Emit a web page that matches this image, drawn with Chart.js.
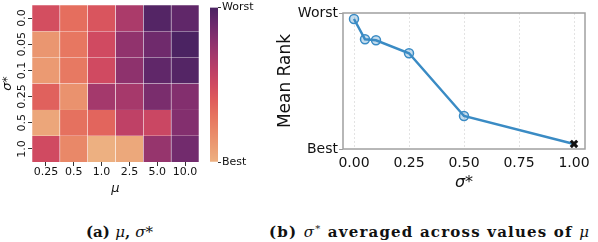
<!DOCTYPE html>
<html>
<head>
<meta charset="utf-8">
<script src="https://cdn.jsdelivr.net/npm/chart.js@4.4.1/dist/chart.umd.min.js"></script>
<style>
  html, body { margin: 0; padding: 0; background: #fff; }
  body { width: 598px; height: 242px; position: relative; overflow: hidden; }
  canvas { position: absolute; top: 0; }
  .cap { position: absolute; top: 222px; height: 20px; line-height: 20px; font-family: "DejaVu Serif", serif;
         font-weight: bold; font-size: 15px; color: #111; white-space: nowrap; }
  .cap i { font-weight: normal; }
  .cap sup { font-size: 10px; line-height: 0; vertical-align: 5px; }
</style>
</head>
<body>
<canvas id="heat" width="205" height="200" style="left:0"></canvas>
<canvas id="cbar" width="60" height="200" style="left:205px"></canvas>
<canvas id="rank" width="328" height="200" style="left:270px"></canvas>
<div class="cap" style="left:86px">(a) <i>μ</i>, <i>σ*</i></div>
<div class="cap" style="left:269px; letter-spacing:1.2px">(b) <i>σ<sup>*</sup></i> averaged across values of <i>μ</i></div>
<script>
// heatmap (a): rank, 0 = best .. 1 = worst, rows top to bottom
const muLabels = ["0.25", "0.5", "1.0", "2.5", "5.0", "10.0"];
const sigmaLabels = ["0.0", "0.05", "0.1", "0.25", "0.5", "1.0"];
const rankGrid = [
    [0.48, 0.32, 0.44, 0.66, 0.97, 0.93],
    [0.13, 0.28, 0.50, 0.76, 0.88, 1.00],
    [0.11, 0.27, 0.50, 0.77, 0.93, 0.97],
    [0.38, 0.15, 0.69, 0.68, 0.84, 0.81],
    [0.05, 0.31, 0.36, 0.58, 0.53, 0.81],
    [0.50, 0.20, 0.00, 0.04, 0.74, 0.87]
];

// line chart (b)
const sigmaValues = [0, 0.05, 0.1, 0.25, 0.5, 1.0];
const meanRank = [0.956, 0.807, 0.799, 0.704, 0.243, 0.037];
const xTicks = [0, 0.25, 0.5, 0.75, 1.0];

Chart.defaults.font.family = "DejaVu Sans";
Chart.defaults.color = "#111";

// flare-like colormap
const flareStops = ["#edb081", "#eb9c73", "#e98868", "#e6735f", "#df5c5c", "#d04a61",
                    "#bb3f67", "#a1386c", "#86306e", "#69296c", "#4b2362"];
function hexToRgb(h) {
    return [parseInt(h.slice(1, 3), 16), parseInt(h.slice(3, 5), 16), parseInt(h.slice(5, 7), 16)];
}
function flare(v) {
    const t = Math.max(0, Math.min(1, v)) * (flareStops.length - 1);
    const i = Math.min(Math.floor(t), flareStops.length - 2);
    const f = t - i;
    const a = hexToRgb(flareStops[i]), b = hexToRgb(flareStops[i + 1]);
    const c = a.map((x, k) => Math.round(x + (b[k] - x) * f));
    return "rgb(" + c.join(",") + ")";
}

// heatmap as stacked bars, bottom row first
const heatSets = [];
for (let r = rankGrid.length - 1; r >= 0; r--) {
    heatSets.push({
        data: muLabels.map(() => 1),
        backgroundColor: rankGrid[r].map(flare),
        borderColor: "rgba(255,255,255,0.12)",
        borderWidth: 0.6,
        barPercentage: 1,
        categoryPercentage: 1
    });
}

new Chart(document.getElementById("heat"), {
    type: "bar",
    data: { labels: muLabels, datasets: heatSets },
    options: {
        responsive: false,
        animation: false,
        layout: { padding: { left: 0, right: 6, top: 5, bottom: 0 } },
        plugins: { legend: { display: false }, tooltip: { enabled: false } },
        scales: {
            x: {
                stacked: true,
                border: { display: false },
                grid: { offset: false, drawOnChartArea: false, tickLength: 4, color: "#333" },
                ticks: { font: { size: 11 }, padding: 0, maxRotation: 0, autoSkip: false },
                title: { display: true, text: "μ", font: { size: 13, style: "italic" }, padding: { top: 0, bottom: 4 } },
                afterFit: (s) => { s.height = 38; }
            },
            y: {
                stacked: true,
                min: 0,
                max: sigmaLabels.length,
                border: { display: false },
                grid: { drawOnChartArea: false, tickLength: 4, color: "#333" },
                afterBuildTicks: (s) => { s.ticks = sigmaLabels.map((_, i) => ({ value: i + 0.5 })); },
                ticks: {
                    font: { size: 11 },
                    minRotation: 90,
                    maxRotation: 90,
                    crossAlign: "center",
                    padding: -6,
                    autoSkip: false,
                    callback: (v) => sigmaLabels[sigmaLabels.length - 1 - Math.floor(v)]
                },
                title: { display: true, text: "σ*", font: { size: 13, style: "italic" }, padding: { top: 0, bottom: 0 } },
                afterFit: (s) => { s.width = 32; }
            }
        }
    }
});

// colorbar
new Chart(document.getElementById("cbar"), {
    type: "bar",
    data: {
        labels: [""],
        datasets: [{
            data: [[0, 1]],
            barPercentage: 1,
            categoryPercentage: 1,
            backgroundColor: (ctx) => {
                const area = ctx.chart.chartArea;
                if (!area) return "#c83e66";
                const g = ctx.chart.ctx.createLinearGradient(0, area.bottom, 0, area.top);
                flareStops.forEach((c, i) => g.addColorStop(i / (flareStops.length - 1), c));
                return g;
            }
        }]
    },
    options: {
        responsive: false,
        animation: false,
        layout: { padding: { left: 5, right: 0, top: 5, bottom: 38 } },
        plugins: { legend: { display: false }, tooltip: { enabled: false } },
        scales: {
            x: { display: false },
            y: {
                position: "right",
                min: 0,
                max: 1,
                border: { display: false },
                grid: { drawOnChartArea: false, tickLength: 3, color: "#333" },
                afterBuildTicks: (s) => { s.ticks = [{ value: 0 }, { value: 1 }]; },
                ticks: { font: { size: 11 }, padding: 1, callback: (v) => (v === 1 ? "Worst" : "Best") },
                afterFit: (s) => { s.width = 47; }
            }
        }
    }
});

// frame round the plot area of (b)
const framePlugin = {
    id: "frame",
    afterDraw(chart) {
        const a = chart.chartArea, c = chart.ctx;
        c.save();
        c.strokeStyle = "#a0a0a0";
        c.lineWidth = 1.5;
        c.strokeRect(a.left, a.top, a.right - a.left, a.bottom - a.top);
        c.restore();
    }
};

const lineColor = "#3a8bc4";
const last = sigmaValues.length - 1;

new Chart(document.getElementById("rank"), {
    type: "line",
    data: {
        datasets: [{
            data: sigmaValues.map((s, i) => ({ x: s, y: meanRank[i] })),
            borderColor: lineColor,
            borderWidth: 2.5,
            pointStyle: sigmaValues.map((_, i) => (i === last ? "crossRot" : "circle")),
            pointRadius: 4.5,
            pointBorderWidth: sigmaValues.map((_, i) => (i === last ? 3 : 1.5)),
            pointBorderColor: sigmaValues.map((_, i) => (i === last ? "#111" : lineColor)),
            pointBackgroundColor: "rgba(58,139,196,0.3)",
            tension: 0
        }]
    },
    options: {
        responsive: false,
        animation: false,
        layout: { padding: { left: 0, right: 13, top: 13, bottom: 0 } },
        plugins: { legend: { display: false }, tooltip: { enabled: false } },
        scales: {
            x: {
                type: "linear",
                min: -0.05,
                max: 1.05,
                border: { display: false, dash: [2, 2] },
                grid: { color: "#dcdcdc", lineWidth: 0.8, drawTicks: false },
                afterBuildTicks: (s) => { s.ticks = xTicks.map((v) => ({ value: v })); },
                ticks: { font: { size: 14 }, padding: 6, maxRotation: 0, callback: (v) => v.toFixed(2) },
                title: { display: true, text: "σ*", font: { size: 16, style: "italic" }, padding: { top: 0, bottom: 8 } },
                afterFit: (s) => { s.height = 51; }
            },
            y: {
                min: 0,
                max: 1,
                border: { display: false },
                grid: { drawOnChartArea: false, tickLength: 4, color: "#999" },
                afterBuildTicks: (s) => { s.ticks = [{ value: 0 }, { value: 1 }]; },
                ticks: { font: { size: 14 }, padding: 1, callback: (v) => (v === 1 ? "Worst" : "Best") },
                title: { display: true, text: "Mean Rank", font: { size: 17 }, padding: { top: 5, bottom: 0 } },
                afterFit: (s) => { s.width = 73; }
            }
        }
    },
    plugins: [framePlugin]
});
</script>
</body>
</html>
